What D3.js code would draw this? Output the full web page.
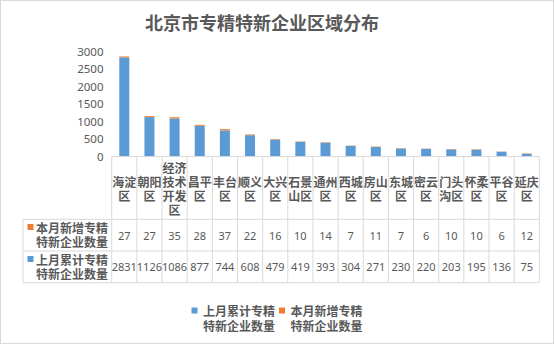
<!DOCTYPE html>
<html><head><meta charset="utf-8">
<script src="https://cdn.jsdelivr.net/npm/d3@7"></script>
<style>
html,body{margin:0;padding:0;background:#fff;}
svg{display:block;}
text{font-family:"Noto Sans CJK SC","Noto Sans",sans-serif;fill:#595959;}
.cj{font-weight:bold;}
</style></head>
<body>
<svg id="c" width="555" height="345"></svg>
<script>
const categories = ["海淀区","朝阳区","经济技术开发区","昌平区","丰台区","顺义区","大兴区","石景山区","通州区","西城区","房山区","东城区","密云区","门头沟区","怀柔区","平谷区","延庆区"];
const newThisMonth = [27,27,35,28,37,22,16,10,14,7,11,7,6,10,10,6,12];
const lastMonthTotal = [2831,1126,1086,877,744,608,479,419,393,304,271,230,220,203,195,136,75];
const yTicks = [0,500,1000,1500,2000,2500,3000];
const seriesNames = ["上月累计专精特新企业数量","本月新增专精特新企业数量"];
const title = "北京市专精特新企业区域分布";

const blue = "#5B9BD5", orange = "#ED7D31", grid = "#D9D9D9";
const svg = d3.select("#c");

svg.append("rect").attr("x",0.5).attr("y",0.5).attr("width",553).attr("height",343)
  .attr("fill","#fff").attr("stroke",grid);

svg.append("text").attr("class","cj").attr("x",262).attr("y",22).attr("text-anchor","middle")
  .attr("dominant-baseline","central").style("font-size","18px").text(title);

const left = 111.7, right = 539.3, y0 = 156.5;
const x = d3.scaleBand().domain(categories).range([left,right]).paddingInner(0).paddingOuter(0);
const y = d3.scaleLinear().domain([0,3000]).range([y0,51.5]);

// y axis labels
const yAxis = d3.axisLeft(y).tickValues(yTicks).tickFormat(d3.format("d")).tickSize(0).tickPadding(0);
const ga = svg.append("g").attr("transform",`translate(103.5,0)`).call(yAxis);
ga.select(".domain").remove();
ga.selectAll("text").style("font-size","11.5px").attr("fill","#595959")
  .style("font-family","\"Noto Sans\",sans-serif");

// bars
const bw = 10;
const data = categories.map((c,i)=>({c, a:lastMonthTotal[i], b:newThisMonth[i]}));
svg.append("g").selectAll("rect").data(data).join("rect")
  .attr("x",d=>x(d.c)+x.bandwidth()/2-bw/2).attr("width",bw)
  .attr("y",d=>y(d.a)).attr("height",d=>y(0)-y(d.a)).attr("fill",blue);
svg.append("g").selectAll("rect").data(data).join("rect")
  .attr("x",d=>x(d.c)+x.bandwidth()/2-bw/2).attr("width",bw)
  .attr("y",d=>y(d.a+d.b)).attr("height",d=>y(d.a)-y(d.a+d.b)).attr("fill",orange);

// table lines
const rowTop = y0, r1 = 219.3, r2 = 251, r3 = 282.7, tl = 23;
const lines = svg.append("g").attr("stroke",grid).attr("stroke-width",1).attr("fill","none");
lines.append("line").attr("x1",left).attr("x2",right).attr("y1",rowTop).attr("y2",rowTop);
[r1,r2,r3].forEach(yy=>lines.append("line").attr("x1",tl).attr("x2",right).attr("y1",yy).attr("y2",yy));
lines.append("line").attr("x1",tl).attr("x2",tl).attr("y1",r1).attr("y2",r3);
const bounds = categories.map(c=>x(c)).concat([right]);
lines.selectAll(null).data(bounds).join("line")
  .attr("x1",d=>d).attr("x2",d=>d).attr("y1",rowTop).attr("y2",r3);

// category labels
const catG = svg.append("g");
categories.forEach(c=>{
  const parts = [];
  for(let i=0;i<c.length;i+=2) parts.push(c.slice(i,i+2));
  const cx = x(c)+x.bandwidth()/2;
  const lh = 14, mid = 188;
  const start = mid - (parts.length-1)*lh/2;
  parts.forEach((p,j)=>{
    catG.append("text").attr("class","cj").attr("x",cx).attr("y",start+j*lh).attr("text-anchor","middle")
      .attr("dominant-baseline","central").style("font-size","12px").text(p);
  });
});

// row labels
const rows = [
  {name:seriesNames[1], color:orange, vals:newThisMonth, l1:227, l2:241.5, mid:235},
  {name:seriesNames[0], color:blue, vals:lastMonthTotal, l1:259, l2:273, mid:266.5}
];
rows.forEach(r=>{
  svg.append("rect").attr("x",27.5).attr("y",r.l1-3).attr("width",6).attr("height",6).attr("fill",r.color);
  svg.append("text").attr("class","cj").attr("x",36).attr("y",r.l1).attr("dominant-baseline","central")
    .style("font-size","12px").text(r.name.slice(0,6));
  svg.append("text").attr("class","cj").attr("x",36).attr("y",r.l2).attr("dominant-baseline","central")
    .style("font-size","12px").text(r.name.slice(6));
  svg.append("g").selectAll("text").data(r.vals).join("text")
    .attr("x",(d,i)=>x(categories[i])+x.bandwidth()/2).attr("y",r.mid)
    .attr("text-anchor","middle").attr("dominant-baseline","central")
    .style("font-size","11px").style("font-family","\"Noto Sans\",sans-serif")
    .text(d=>d);
});

// legend
const leg = [{name:seriesNames[0], color:blue, x:191.5},{name:seriesNames[1], color:orange, x:279}];
leg.forEach(l=>{
  svg.append("rect").attr("x",l.x).attr("y",307.5).attr("width",6).attr("height",6).attr("fill",l.color);
  svg.append("text").attr("class","cj").attr("x",l.x+11.5).attr("y",310.5).attr("dominant-baseline","central")
    .style("font-size","12px").text(l.name.slice(0,6));
  svg.append("text").attr("class","cj").attr("x",l.x+11.5).attr("y",325).attr("dominant-baseline","central")
    .style("font-size","12px").text(l.name.slice(6));
});
</script>
</body></html>
